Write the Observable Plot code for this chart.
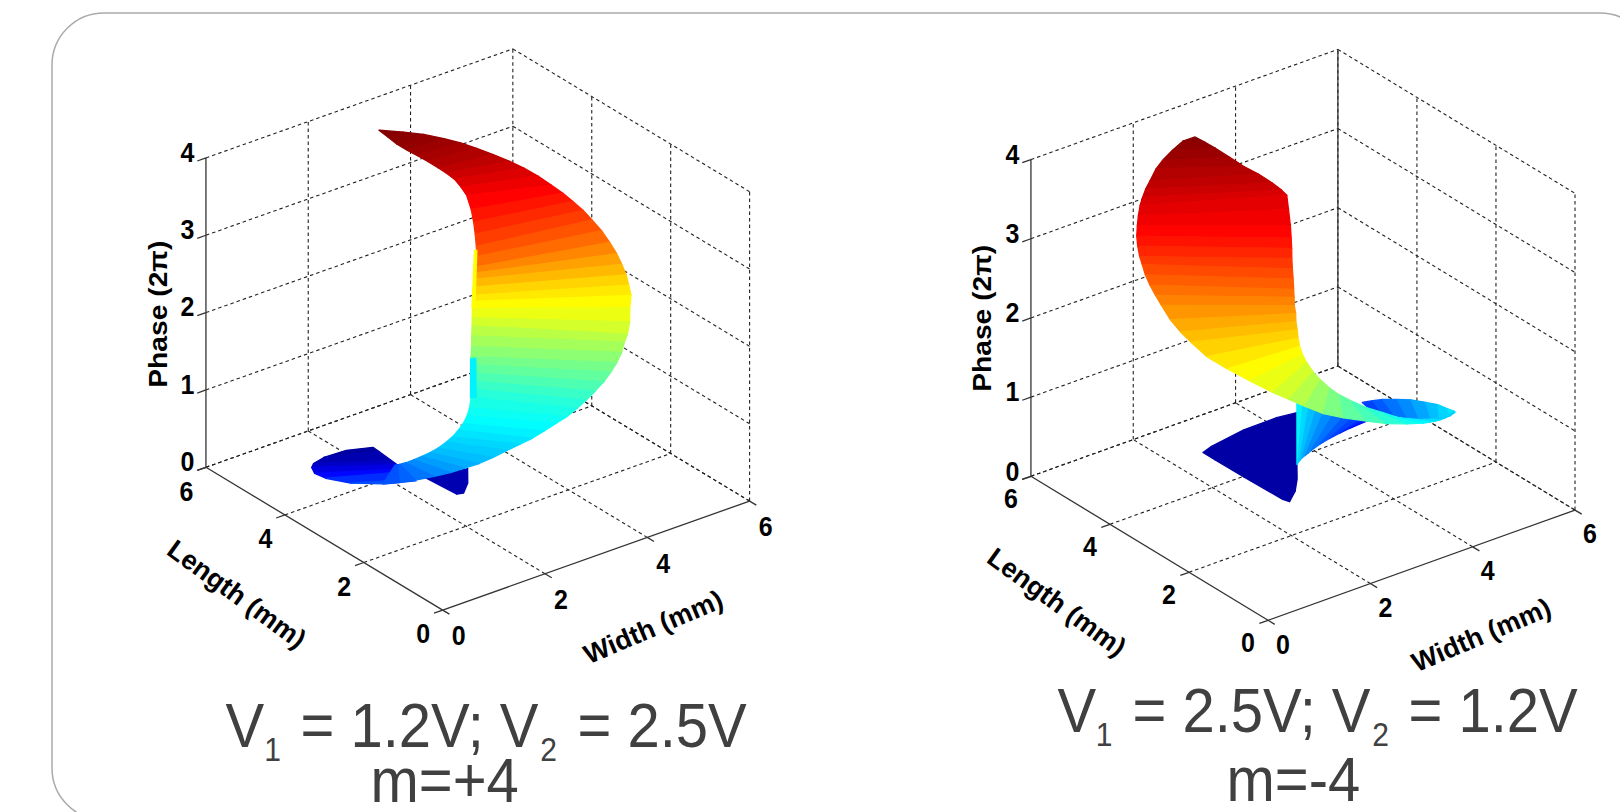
<!DOCTYPE html>
<html><head><meta charset="utf-8">
<script src="https://cdn.jsdelivr.net/npm/d3@7"></script>
<script src="https://cdn.jsdelivr.net/npm/@observablehq/plot@0.6"></script>
<style>html,body{margin:0;padding:0;background:#fff}svg{display:block}</style>
</head><body><div id="c"></div>
<script>
// Axis ticks
const widthTicks=[0,2,4,6], lengthTicks=[0,2,4,6], phaseTicks=[0,1,2,3,4];
// Surface cross-sections: phase (2π units) and [w1,l1,w2,l2] in mm
const leftFlapPhase=[.15,.15,.15];
const leftFlap=[[2.25,3.32,2.25,3.32],[2.95,3.18,2.30,2.61],[2.66,2.80,2.40,2.57]];
const leftTailPhase=[.05,.1,.2,.3,.45,.6,.75,.85];
const leftTail=[[1.99,5.01,2.38,4.84],[1.49,4.93,2.29,4.57],[1.08,4.66,2.10,4.01],[0.82,4.37,1.93,3.64],[0.50,3.88,1.74,3.13],[0.30,3.34,1.56,2.69],[0.27,2.67,1.16,2.17],[0.50,2.14,0.96,1.91]];
const leftSheetPhase=[4,3.97,3.94,3.91,3.87,3.83,3.79,3.73,3.67,3.6,3.53,3.46,3.38,3.3,3.22,3.13,3.03,2.92,2.82,2.72,2.62,2.55,2.47,2.38,2.28,2.19,2.1,2,1.92,1.84,1.76,1.68,1.62,1.57,1.52,1.47,1.42,1.37,1.32,1.27,1.22,1.15,1.08,1,.92,.85,.8];
const leftSheet=[[2.69,5.09,2.70,5.08],[2.71,4.89,3.00,4.87],[2.72,4.67,3.25,4.68],[2.77,4.47,3.46,4.44],[2.85,4.32,3.64,4.25],[2.92,4.15,3.79,4.04],[2.98,3.96,3.93,3.80],[3.07,3.88,4.09,3.59],[3.14,3.76,4.22,3.40],[3.17,3.63,4.34,3.20],[3.18,3.50,4.43,2.98],[3.06,3.23,4.52,2.80],[2.96,3.04,4.60,2.65],[2.86,2.87,4.67,2.48],[2.75,2.70,4.71,2.31],[2.69,2.61,4.75,2.12],[2.64,2.54,4.77,1.94],[2.68,2.61,4.80,1.80],[2.70,2.66,4.80,1.67],[2.69,2.66,4.80,1.56],[2.66,2.66,4.78,1.47],[2.65,2.64,4.71,1.32],[2.62,2.63,4.57,1.17],[2.57,2.57,4.42,0.98],[2.56,2.56,4.30,0.88],[2.49,2.48,4.24,0.88],[2.42,2.39,4.14,0.82],[2.36,2.33,4.03,0.80],[2.32,2.28,3.89,0.77],[2.28,2.22,3.73,0.74],[2.24,2.17,3.56,0.74],[2.20,2.12,3.39,0.75],[2.13,2.03,3.21,0.74],[1.98,1.87,2.99,0.72],[1.86,1.78,2.81,0.75],[1.73,1.71,2.58,0.76],[1.62,1.69,2.36,0.78],[1.49,1.67,2.17,0.84],[1.38,1.69,1.97,0.90],[1.24,1.71,1.73,0.95],[1.13,1.77,1.51,1.02],[1.06,1.89,1.35,1.18],[1.00,2.02,1.19,1.34],[0.97,2.18,1.04,1.55],[0.99,2.36,0.86,1.79],[1.06,2.51,0.72,2.02],[1.11,2.63,0.57,2.24]];
const leftFoldUpperPhase=[2.5,2.5];
const leftFoldUpper=[[3.78,4.08,3.81,4.06],[2.58,2.59,2.62,2.57]];
const leftFoldLowerPhase=[1.45,1.45];
const leftFoldLower=[[3.18,3.40,3.25,3.36],[2.39,2.38,2.46,2.33]];
const rightFlapPhase=[.1,.1,.1,.1,.1,.1,.1];
const rightFlap=[[2.43,4.78,2.43,4.78],[2.66,4.86,2.43,4.47],[3.39,4.99,2.44,3.76],[4.04,5.00,2.46,2.80],[4.39,4.94,2.50,2.68],[3.87,4.27,2.78,2.90],[3.34,3.58,3.05,3.20]];
const rightFanPhase=[1.5,1.4,1.3,1.2,1.1,1,.9,.8,.7,.6,.55];
const rightFan=[[1.10,0.68,2.42,2.39],[1.29,0.91,2.61,2.48],[1.53,1.17,2.81,2.58],[1.78,1.43,3.02,2.65],[2.03,1.67,3.24,2.73],[2.36,1.95,3.47,2.77],[2.75,2.24,3.69,2.79],[3.15,2.51,3.95,2.87],[3.55,2.76,4.22,2.96],[3.93,3.00,4.39,3.08],[4.22,3.12,4.52,3.14]];
const rightTailPhase=[.7,.8,.9,1,1.1,1.2,1.3,1.38,1.42];
const rightTail=[[4.44,3.35,4.39,3.09],[4.44,3.09,4.30,2.66],[4.43,2.82,4.25,2.28],[4.45,2.48,4.20,1.90],[4.45,2.13,4.15,1.53],[4.42,1.72,4.14,1.21],[4.36,1.34,4.08,0.92],[4.27,0.97,4.16,0.77],[4.24,0.75,4.22,0.72]];
const rightSheetPhase=[4,3.96,3.92,3.87,3.82,3.78,3.73,3.68,3.63,3.58,3.52,3.46,3.39,3.32,3.25,3.17,3.1,3.02,2.95,2.87,2.8,2.72,2.64,2.55,2.47,2.38,2.28,2.16,2.04,1.93,1.82,1.72,1.62,1.52,1.42,1.34,1.28];
const rightSheet=[[2.47,5.03,2.47,5.03],[2.55,4.88,2.30,5.12],[2.62,4.71,2.05,5.06],[2.69,4.44,1.80,4.99],[2.76,4.17,1.64,4.94],[2.85,3.92,1.38,4.76],[2.92,3.66,1.24,4.69],[2.97,3.49,1.12,4.61],[3.01,3.41,1.00,4.52],[2.82,3.12,0.85,4.37],[2.61,2.80,0.73,4.24],[2.47,2.60,0.61,4.10],[2.38,2.47,0.53,3.97],[2.29,2.35,0.46,3.83],[2.20,2.22,0.44,3.74],[2.13,2.11,0.40,3.61],[2.04,1.98,0.36,3.44],[2.01,1.93,0.35,3.29],[1.96,1.86,0.33,3.11],[1.94,1.80,0.28,2.82],[1.89,1.73,0.27,2.55],[1.87,1.67,0.32,2.35],[1.84,1.61,0.35,1.99],[1.84,1.57,0.50,1.66],[1.84,1.50,0.66,1.30],[1.87,1.43,0.85,0.97],[1.92,1.33,1.07,0.84],[2.04,1.30,1.32,0.76],[2.18,1.25,1.59,0.64],[2.34,1.20,1.93,0.57],[2.54,1.15,2.32,0.50],[2.75,1.06,2.68,0.45],[3.01,0.98,3.08,0.46],[3.27,0.90,3.46,0.53],[3.64,0.87,3.81,0.68],[3.98,0.90,4.13,0.84],[4.32,0.97,4.45,1.04]];
const jetStops=[0,.5,1.5,2.5,3.5,4], jetColors=["#00008f","#0000ff","#00ffff","#ffff00","#ff0000","#800000"];

// 3-D views of the two panels
const viewL={ox:442.2,oy:609.6,wx:51.15,wy:-18.17,lx:-39.46,ly:-23.8,pz:-77.35};
const viewR={ox:1267.55,oy:619.8,wx:51.16,wy:-18.37,lx:-39.52,ly:-24.0,pz:-79.18};
const proj=(v,w,l,p)=>[v.ox+w*v.wx+l*v.lx, v.oy+w*v.wy+l*v.ly+p*v.pz];
function quads(v,ph,e,id){const o=[];for(let i=0;i<e.length-1;i++){const m=(ph[i]+ph[i+1])/2;for(const j of [i,i+1]){const a=proj(v,e[j][0],e[j][1],ph[j]),b=proj(v,e[j][2],e[j][3],ph[j]);o.push({i:id+i,p:m,x1:a[0],y1:a[1],x2:b[0],y2:b[1]});}}return o;}
const surf=(v,ph,e,id)=>Plot.area(quads(v,ph,e,id),{x1:"x1",y1:"y1",x2:"x2",y2:"y2",z:"i",fill:"p",stroke:"p",strokeWidth:1.3,curve:"linear"});
function grid(v){const s=[];const add=(a,b)=>{const A=proj(v,...a),B=proj(v,...b);s.push({x1:A[0],y1:A[1],x2:B[0],y2:B[1]});};
 for(const w of widthTicks){if(w>0){add([w,6,0],[w,6,4]);add([w,0,0],[w,6,0]);}}
 for(const l of lengthTicks){if(l<6)add([6,l,0],[6,l,4]);if(l>0)add([0,l,0],[6,l,0]);}
 for(const p of phaseTicks){add([0,6,p],[6,6,p]);add([6,6,p],[6,0,p]);}
 return s;}
function axis(v,solidBack){const s=[];const add=(a,b)=>{const A=proj(v,...a),B=proj(v,...b);s.push({x1:A[0],y1:A[1],x2:B[0],y2:B[1]});};
 add([0,6,0],[0,6,4]);add([0,0,0],[0,6,0]);add([0,0,0],[6,0,0]);if(solidBack)add([6,6,0],[6,6,4]);
 for(const p of phaseTicks)add([0,6,p],[-.17,6,p]);for(const l of lengthTicks)add([0,l,0],[-.17,l,0]);for(const w of widthTicks)add([w,0,0],[w,-.17,0]);
 return s;}
const lk=(d,o)=>Plot.link(d,{x1:"x1",y1:"y1",x2:"x2",y2:"y2",...o});
function labels(v,pOff,lOff,wOff){const o=[];
 for(const p of phaseTicks){const a=proj(v,0,6,p);o.push({x:a[0]+pOff[0],y:a[1]+pOff[1],t:String(p)});}
 for(const l of lengthTicks){const a=proj(v,0,l,0);o.push({x:a[0]+lOff[0],y:a[1]+lOff[1],t:String(l)});}
 for(const w of widthTicks){const a=proj(v,w,0,0);o.push({x:a[0]+wOff[0],y:a[1]+wOff[1],t:String(w)});}
 return o;}
const tick=d=>Plot.text(d,{x:"x",y:"y",text:"t",fontSize:25,fontWeight:"bold",fill:"#000",className:"stretchT"});
const titles=(d,rot,cls,fs)=>Plot.text(d,{x:"x",y:"y",text:"t",rotate:rot,fontSize:fs,fontWeight:"bold",fill:"#000",className:cls});
const cap=(d,fs,anchor)=>Plot.text(d,{x:"x",y:"y",text:"t",fontSize:fs,fill:"#404040",textAnchor:anchor||"start",className:"stretchY"});
const chart=Plot.plot({width:1620,height:812,margin:0,x:{domain:[0,1620],range:[0,1620],axis:null},y:{domain:[0,812],range:[0,812],axis:null},
 color:{type:"linear",domain:jetStops,range:jetColors,interpolate:"rgb"},style:{fontFamily:"'Liberation Sans',Arial,sans-serif",background:"#fff"},
 marks:[
 Plot.rect([{a:52,b:1652,c:13,d:820}],{x1:"a",x2:"b",y1:"c",y2:"d",rx:52,fill:"none",stroke:"#aaa",strokeWidth:1.5}),
 lk(grid(viewL),{stroke:"#222",strokeWidth:1.1,strokeDasharray:"3.5,3"}),lk(axis(viewL,false),{stroke:"#333",strokeWidth:1.3}),
 lk(grid(viewR),{stroke:"#222",strokeWidth:1.1,strokeDasharray:"3.5,3"}),lk(axis(viewR,true),{stroke:"#333",strokeWidth:1.3}),
 surf(viewL,leftFlapPhase,leftFlap,0),surf(viewL,leftTailPhase,leftTail,50),surf(viewL,leftSheetPhase,leftSheet,100),surf(viewL,leftFoldUpperPhase,leftFoldUpper,200),surf(viewL,leftFoldLowerPhase,leftFoldLower,300),
 surf(viewR,rightFlapPhase,rightFlap,400),surf(viewR,rightFanPhase,rightFan,500),surf(viewR,rightTailPhase,rightTail,600),surf(viewR,rightSheetPhase,rightSheet,700),
 tick(labels(viewL,[-18.4,-5],[-19.5,24.5],[16,26.5])),tick(labels(viewR,[-18.4,-4.5],[-20,22.5],[15,24.5])),
 titles([{x:158.6,y:313.7,t:"Phase (2π)"},{x:982.6,y:317.8,t:"Phase (2π)"}],-90,"stretchL",25),
 titles([{x:236,y:594,t:"Length (mm)"},{x:1056,y:602,t:"Length (mm)"}],36,"x",27),
 titles([{x:653,y:627,t:"Width (mm)"},{x:1481,y:635,t:"Width (mm)"}],-23,"x",27),
 cap([{x:225,y:726,t:"V"},{x:300,y:726,t:"= 1.2V; V"},{x:577,y:726,t:"= 2.5V"},{x:370,y:781,t:"m=+4"},
      {x:1057,y:711,t:"V"},{x:1132,y:711,t:"= 2.5V; V"},{x:1408,y:711,t:"= 1.2V"},{x:1226,y:780,t:"m=-4"}],58),
 cap([{x:272,y:750,t:"1"},{x:548,y:750,t:"2"},{x:1103.6,y:735,t:"1"},{x:1380,y:735,t:"2"}],30,"middle")
 ]});
const sc=(cls,s)=>chart.querySelectorAll("."+cls+" text").forEach(t=>t.setAttribute("transform",(t.getAttribute("transform")||"")+" scale("+s+")"));
sc("stretchY","1,1.08");sc("stretchL","1.13,1");sc("stretchT","1,1.1");
document.getElementById("c").append(chart);
</script></body></html>
